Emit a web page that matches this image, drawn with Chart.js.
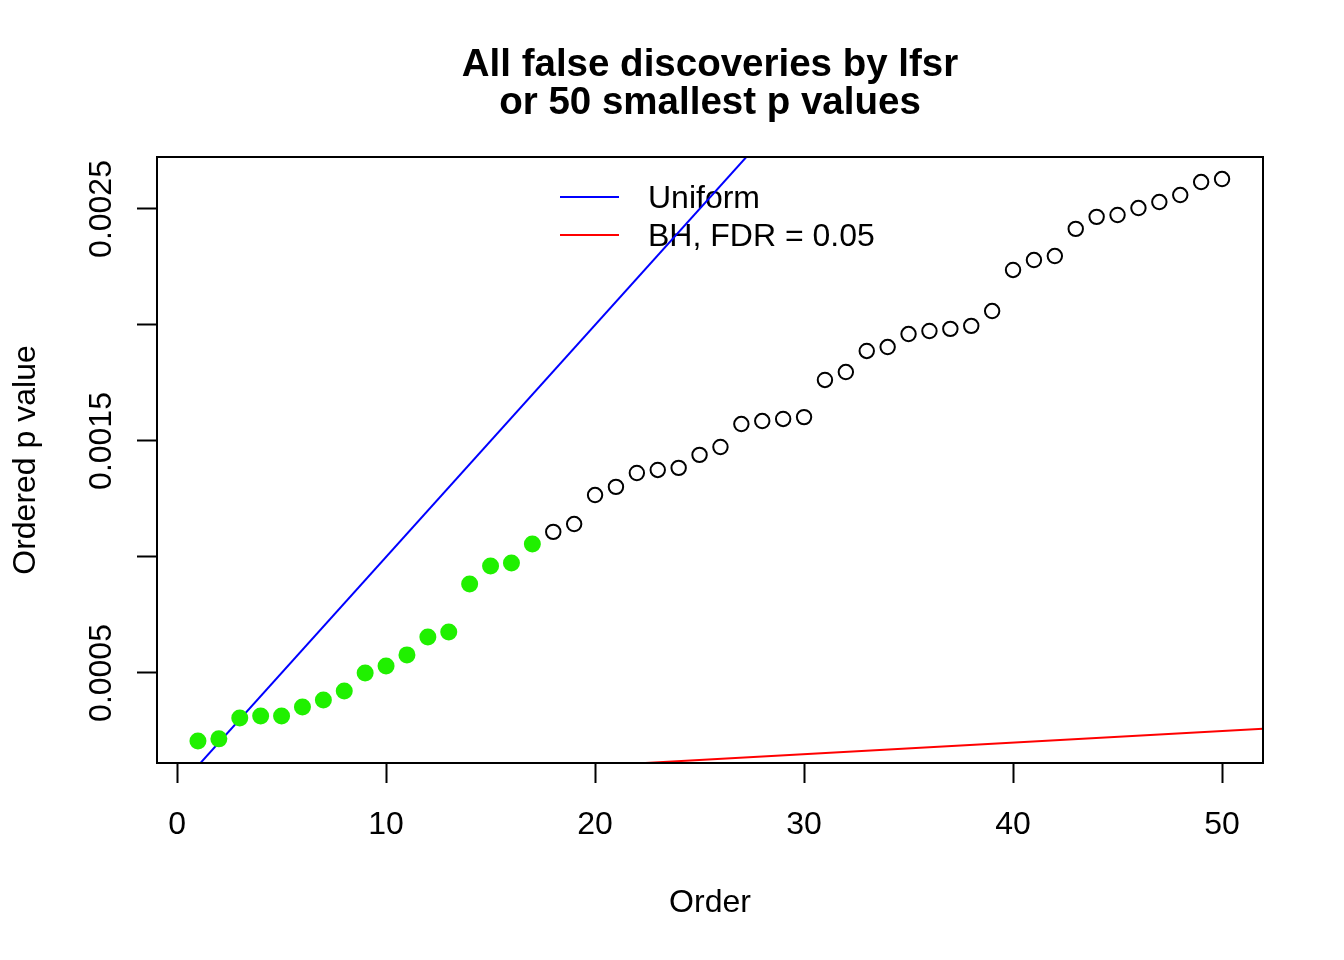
<!DOCTYPE html>
<html>
<head>
<meta charset="utf-8">
<title>All false discoveries by lfsr</title>
<script src="https://cdn.jsdelivr.net/npm/chart.js@4.4.1/dist/chart.umd.min.js"></script>
<style>
html, body { margin: 0; padding: 0; background: #fff; }
#wrap { width: 1344px; height: 960px; }
</style>
</head>
<body>
<div id="wrap"><canvas id="pvalChart" width="1344" height="960"></canvas></div>
<script>
// Ordered p values (50 smallest)
const pValues = [
    0.000207, 0.000216, 0.000306, 0.000315, 0.000315, 0.000353, 0.000384, 0.000422, 0.000500, 0.000530,
    0.000578, 0.000655, 0.000677, 0.000884, 0.000961, 0.000974, 0.001056, 0.001108, 0.001142, 0.001267,
    0.001302, 0.001362, 0.001375, 0.001384, 0.001440, 0.001474, 0.001573, 0.001586, 0.001595, 0.001603,
    0.001763, 0.001797, 0.001888, 0.001905, 0.001961, 0.001974, 0.001983, 0.001996, 0.002060, 0.002237,
    0.002280, 0.002297, 0.002414, 0.002466, 0.002474, 0.002504, 0.002530, 0.002560, 0.002616, 0.002629
];
// how many of them are lfsr discoveries (green)
const lfsrDiscoveries = 17;

// reference lines (end points, clipped by the plot box)
const uniformLine = [{ x: 0, y: 0 }, { x: 60, y: 0.006 }];
const bhLine = [{ x: 0, y: 0 }, { x: 60, y: 0.0003 }];

const legendLabels = ['Uniform', 'BH, FDR = 0.05'];
const legendColors = ['#0000ff', '#ff0000'];

const xTicks = [0, 10, 20, 30, 40, 50];
const yTicks = [0.0005, 0.0010, 0.0015, 0.0020, 0.0025];
const yTickLabels = [0.0005, 0.0015, 0.0025];

const titleLines = ['All false discoveries by lfsr', 'or 50 smallest p values'];

const FONT = "'Liberation Sans', Arial, Helvetica, sans-serif";

// split points into green (discoveries) and open circles
const greenPoints = [];
const openPoints = [];
pValues.forEach((p, i) => {
    const pt = { x: i + 1, y: p };
    if (i < lfsrDiscoveries) greenPoints.push(pt);
    else openPoints.push(pt);
});

// frame, title and legend drawn like base R
const rPlotPlugin = {
    id: 'rPlot',
    beforeDatasetsDraw(chart) {
        const ctx = chart.ctx;
        ctx.save();
        ctx.font = '32px ' + FONT;
        ctx.textAlign = 'left';
        ctx.textBaseline = 'middle';
        legendLabels.forEach((label, i) => {
            const y = 197 + i * 38;
            ctx.strokeStyle = legendColors[i];
            ctx.lineWidth = 2;
            ctx.beginPath();
            ctx.moveTo(560, y);
            ctx.lineTo(619, y);
            ctx.stroke();
            ctx.fillStyle = '#000';
            ctx.fillText(label, 648, y + 2);
        });
        ctx.restore();
    },
    afterDraw(chart) {
        const ctx = chart.ctx;
        const a = chart.chartArea;
        ctx.save();
        ctx.strokeStyle = '#000';
        ctx.lineWidth = 2;
        ctx.strokeRect(a.left, a.top, a.right - a.left, a.bottom - a.top);

        ctx.fillStyle = '#000';
        ctx.font = 'bold 38.5px ' + FONT;
        ctx.textAlign = 'center';
        ctx.textBaseline = 'middle';
        const cx = (a.left + a.right) / 2;
        titleLines.forEach((line, i) => {
            ctx.fillText(line, cx, 65 + i * 38);
        });
        ctx.restore();
    }
};

const ctx = document.getElementById('pvalChart').getContext('2d');

new Chart(ctx, {
    type: 'scatter',
    data: {
        datasets: [
            {
                label: 'lfsr discoveries',
                data: greenPoints,
                pointRadius: 8.5,
                pointBackgroundColor: '#20f000',
                pointBorderColor: '#20f000',
                pointBorderWidth: 0,
                order: 0
            },
            {
                label: 'other',
                data: openPoints,
                pointRadius: 7.2,
                pointBackgroundColor: 'rgba(0,0,0,0)',
                pointBorderColor: '#000',
                pointBorderWidth: 2,
                order: 0
            },
            {
                label: 'Uniform',
                data: uniformLine,
                showLine: true,
                pointRadius: 0,
                borderColor: '#0000ff',
                borderWidth: 2,
                order: 1
            },
            {
                label: 'BH, FDR = 0.05',
                data: bhLine,
                showLine: true,
                pointRadius: 0,
                borderColor: '#ff0000',
                borderWidth: 2,
                order: 1
            }
        ]
    },
    options: {
        responsive: false,
        animation: false,
        devicePixelRatio: 1,
        layout: { padding: { left: 0, right: 81, top: 157, bottom: 0 } },
        plugins: {
            legend: { display: false },
            tooltip: { enabled: false }
        },
        scales: {
            x: {
                type: 'linear',
                min: -0.96,
                max: 51.96,
                afterBuildTicks: scale => { scale.ticks = xTicks.map(v => ({ value: v })); },
                afterFit: scale => { scale.height = 197; },
                grid: { drawOnChartArea: false, tickLength: 20, tickColor: '#000', tickWidth: 2 },
                border: { display: false },
                ticks: {
                    color: '#000',
                    font: { family: FONT, size: 32 },
                    padding: 23,
                    autoSkip: false,
                    maxRotation: 0
                },
                title: {
                    display: true,
                    text: 'Order',
                    color: '#000',
                    font: { family: FONT, size: 32 },
                    padding: { top: 0, bottom: 38 }
                }
            },
            y: {
                type: 'linear',
                min: 0.000112,
                max: 0.002724,
                afterBuildTicks: scale => { scale.ticks = yTicks.map(v => ({ value: v })); },
                afterFit: scale => { scale.width = 157; },
                grid: { drawOnChartArea: false, tickLength: 20, tickColor: '#000', tickWidth: 2 },
                border: { display: false },
                ticks: {
                    color: '#000',
                    font: { family: FONT, size: 32 },
                    padding: -14,
                    autoSkip: false,
                    minRotation: 90,
                    maxRotation: 90,
                    crossAlign: 'center',
                    callback: function (value) {
                        const hit = yTickLabels.find(v => Math.abs(v - value) < 1e-9);
                        return hit !== undefined ? String(hit) : '';
                    }
                },
                title: {
                    display: true,
                    text: 'Ordered p value',
                    color: '#000',
                    font: { family: FONT, size: 32 },
                    padding: { top: 7, bottom: 0 }
                }
            }
        }
    },
    plugins: [rPlotPlugin]
});
</script>
</body>
</html>
